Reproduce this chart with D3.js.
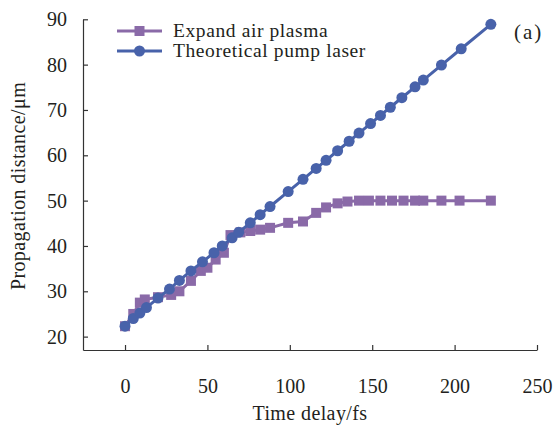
<!DOCTYPE html>
<html>
<head>
<meta charset="utf-8">
<script src="https://cdn.jsdelivr.net/npm/d3@7"></script>
<style>
	body { margin: 0; background: #fff; }
	svg text { font-family: "Liberation Serif", "DejaVu Serif", "Times New Roman", Times, serif; fill: #231f20; }
</style>
</head>
<body>
<svg id="chart" width="554" height="426"></svg>
<script>
// time delay (fs) and propagation distance (um)
var plasmaTime = [0, 5, 9, 12, 20, 28, 33, 40, 46, 50, 55, 60, 64, 70, 76, 82, 88, 99, 108, 116, 122, 129, 135, 142, 148, 155, 162, 169, 176, 181, 192, 203, 222];
var plasmaDist = [22.3, 25, 27.5, 28.2, 28.7, 29.2, 30, 32.3, 34.5, 35.2, 37, 38.5, 42.4, 43, 43.3, 43.6, 44, 45.1, 45.4, 47.3, 48.5, 49.4, 49.8, 50, 50, 50, 50, 50, 50, 50, 50, 50, 50];

var pumpTime = [0, 5, 9, 13, 20, 27, 33, 40, 47, 54, 59, 65, 69, 76, 82, 88, 99, 108, 116, 122, 129, 136, 142, 149, 155, 161, 168, 176, 181, 192, 204, 222];
var pumpDist = [22.3, 24.0, 25.2, 26.4, 28.5, 30.5, 32.4, 34.5, 36.5, 38.5, 40.0, 41.8, 43.0, 45.1, 46.9, 48.7, 52.0, 54.7, 57.1, 58.9, 61.0, 63.1, 64.9, 67.0, 68.8, 70.6, 72.7, 75.1, 76.6, 79.9, 83.5, 88.9];

var xTicks = [0, 50, 100, 150, 200, 250];
var yTicks = [20, 30, 40, 50, 60, 70, 80, 90];
var seriesNames = ["Expand air plasma", "Theoretical pump laser"];

var purple = "#8a6aa8",
	blue = "#4862aa";
var serif = "'Liberation Serif', 'DejaVu Serif', 'Times New Roman', serif";

var svg = d3.select("#chart");

var x = d3.scaleLinear().domain([-25.5, 250]).range([83, 537]);
var y = d3.scaleLinear().domain([17.05, 90]).range([350, 19.3]);

function pairs(t, v) {
	return t.map(function(d, i) { return [d, v[i]]; });
}
var plasma = pairs(plasmaTime, plasmaDist),
	pump = pairs(pumpTime, pumpDist);

// axes, ticks pointing inward
var xAxis = svg.append("g")
	.attr("transform", "translate(0,350)")
	.call(d3.axisBottom(x).tickValues(xTicks).tickSizeInner(-5).tickSizeOuter(0).tickPadding(29));
var yAxis = svg.append("g")
	.attr("transform", "translate(83,0)")
	.call(d3.axisLeft(y).tickValues(yTicks).tickSizeInner(-5).tickSizeOuter(0).tickPadding(16));

[xAxis, yAxis].forEach(function(a) {
	a.attr("font-family", serif).attr("font-size", 20);
	a.selectAll("path, line").attr("stroke", "#333").attr("stroke-width", 1.2);
	a.selectAll("text").attr("fill", "#231f20");
});

svg.append("text")
	.attr("x", 310).attr("y", 420)
	.attr("text-anchor", "middle")
	.attr("font-family", serif)
	.attr("font-size", 20)
	.attr("letter-spacing", 0.4)
	.text("Time delay/fs");

svg.append("text")
	.attr("transform", "translate(25,186) rotate(-90)")
	.attr("text-anchor", "middle")
	.attr("font-family", serif)
	.attr("font-size", 20)
	.attr("letter-spacing", 0.4)
	.text("Propagation distance/\u03bcm");

svg.append("text")
	.attr("x", 514).attr("y", 39)
	.attr("font-family", serif)
	.attr("font-size", 21)
	.attr("letter-spacing", 2)
	.text("(a)");

var line = d3.line()
	.x(function(d) { return x(d[0]); })
	.y(function(d) { return y(d[1]); });

// plasma series (drawn first, under the laser line)
svg.append("path").datum(plasma)
	.attr("d", line).attr("fill", "none")
	.attr("stroke", purple).attr("stroke-width", 3);
svg.selectAll("rect.plasma").data(plasma).enter().append("rect")
	.attr("class", "plasma")
	.attr("x", function(d) { return x(d[0]) - 5; })
	.attr("y", function(d) { return y(d[1]) - 5; })
	.attr("width", 10).attr("height", 10)
	.attr("fill", purple);

svg.append("path").datum(pump)
	.attr("d", line).attr("fill", "none")
	.attr("stroke", blue).attr("stroke-width", 3);
svg.selectAll("circle.pump").data(pump).enter().append("circle")
	.attr("class", "pump")
	.attr("cx", function(d) { return x(d[0]); })
	.attr("cy", function(d) { return y(d[1]); })
	.attr("r", 5.5)
	.attr("fill", blue);

// legend
var legend = svg.append("g");
var legendY = [31, 51];
seriesNames.forEach(function(name, i) {
	var col = i === 0 ? purple : blue;
	legend.append("line")
		.attr("x1", 117).attr("x2", 162)
		.attr("y1", legendY[i]).attr("y2", legendY[i])
		.attr("stroke", col).attr("stroke-width", 3);
	if (i === 0) {
		legend.append("rect")
			.attr("x", 134.5).attr("y", legendY[i] - 5)
			.attr("width", 10).attr("height", 10)
			.attr("fill", col);
	} else {
		legend.append("circle")
			.attr("cx", 139.5).attr("cy", legendY[i])
			.attr("r", 5.5).attr("fill", col);
	}
	legend.append("text")
		.attr("x", 173).attr("y", legendY[i] + 6)
		.attr("font-family", serif)
		.attr("font-size", 19.5)
		.attr("letter-spacing", 0.6)
		.text(name);
});
</script>
</body>
</html>
